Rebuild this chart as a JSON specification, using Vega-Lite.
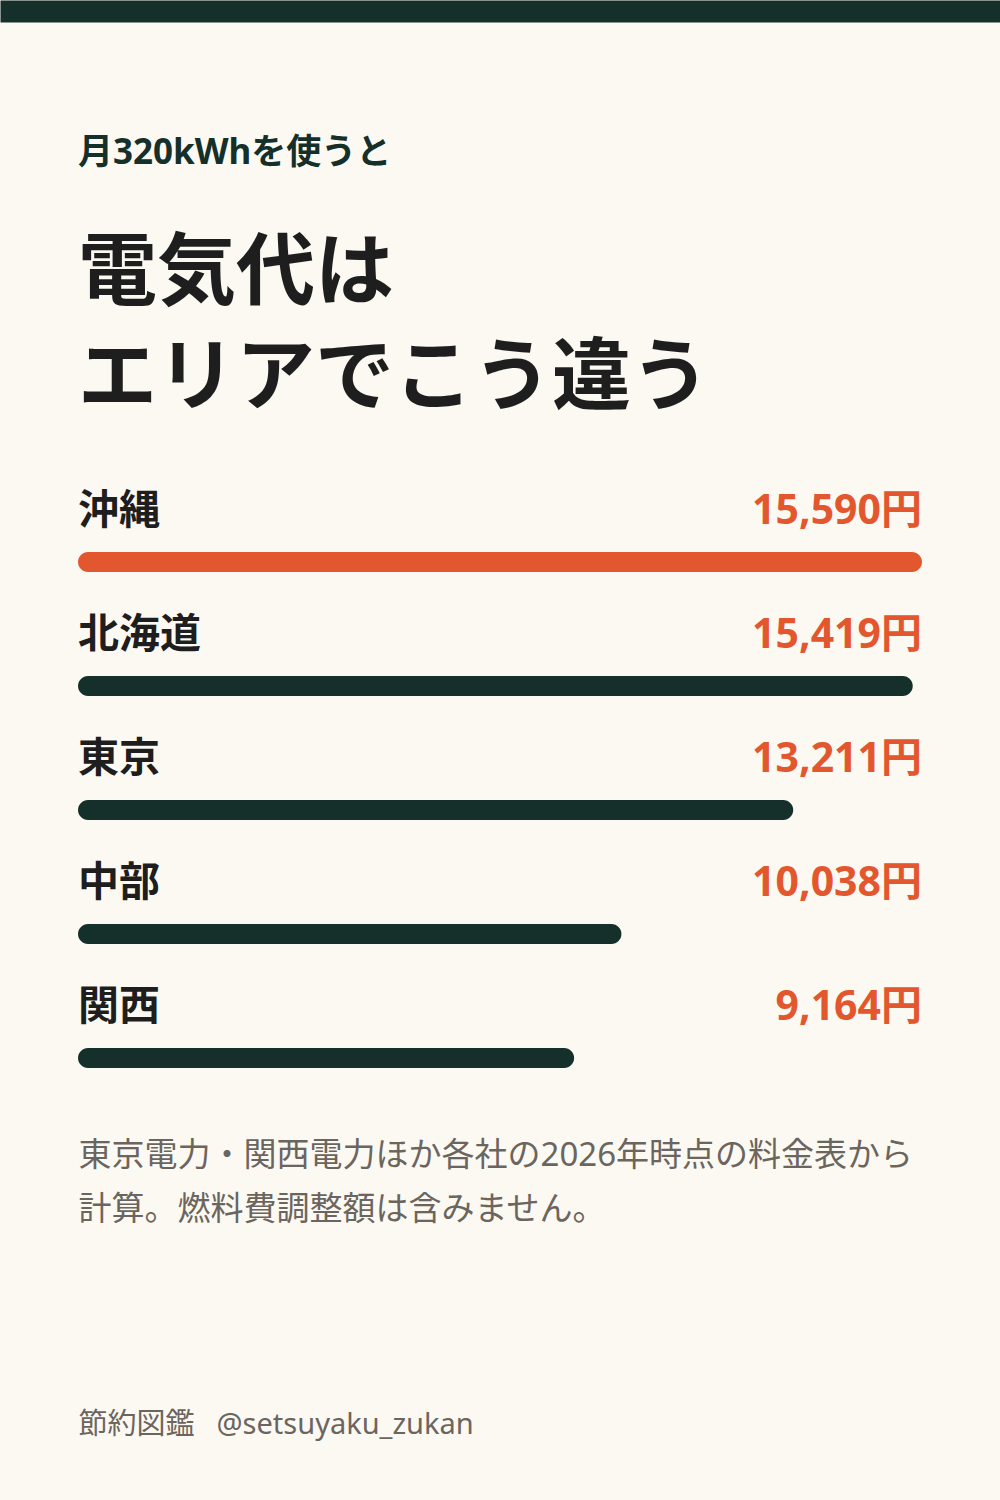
{
  "$schema": "https://vega.github.io/schema/vega-lite/v6.json",
  "width": 1000,
  "height": 620,
  "autosize": {"type": "none"},
  "padding": {"top": 500, "left": 0, "right": 0, "bottom": 380},
  "background": "#fcf9f2",
  "config": {"view": {"stroke": null}, "font": "Noto Sans, Noto Sans CJK JP"},
  "title": {
    "text": "月320kWhを使うと",
    "subtitle": ["電気代は", "エリアでこう違う"],
    "anchor": "start",
    "frame": "group",
    "orient": "top",
    "dx": 78,
    "offset": -409,
    "font": "Noto Sans, Noto Sans CJK JP",
    "fontSize": 35,
    "fontWeight": "bold",
    "color": "#15302b",
    "subtitleFont": "Noto Sans CJK JP",
    "subtitleFontSize": 79,
    "subtitleFontWeight": "bold",
    "subtitleColor": "#1e1e1e",
    "subtitleLineHeight": 105,
    "subtitlePadding": 66
  },
  "data": {
    "values": [
      {"area": "沖縄", "value": 15590},
      {"area": "北海道", "value": 15419},
      {"area": "東京", "value": 13211},
      {"area": "中部", "value": 10038},
      {"area": "関西", "value": 9164}
    ]
  },
  "transform": [
    {"joinaggregate": [{"op": "max", "field": "value", "as": "maxv"}]},
    {"calculate": "format(datum.value, ',') + '円'", "as": "label"}
  ],
  "encoding": {
    "y": {
      "field": "area",
      "type": "nominal",
      "sort": null,
      "scale": {"paddingInner": 0, "paddingOuter": 0},
      "axis": {
        "orient": "left",
        "domain": false,
        "ticks": false,
        "labels": false,
        "grid": false,
        "title": "節約図鑑\u2002 @setsuyaku_zukan",
        "titleAngle": 0,
        "titleAlign": "left",
        "titleBaseline": "alphabetic",
        "titleX": 78,
        "titleY": 933,
        "titleFont": "Noto Sans, Noto Sans CJK JP",
        "titleFontSize": 29,
        "titleFontWeight": "normal",
        "titleColor": "#6b6560"
      }
    }
  },
  "layer": [
    {
      "mark": {"type": "bar", "height": 20, "cornerRadius": 10},
      "encoding": {
        "x": {
          "field": "value",
          "type": "quantitative",
          "scale": {"domain": [-1440.8, 17030.8], "nice": false, "zero": false},
          "axis": {
            "orient": "bottom",
            "domain": false,
            "ticks": false,
            "labels": false,
            "grid": false,
            "title": ["東京電力・関西電力ほか各社の2026年時点の料金表から", "計算。燃料費調整額は含みません。"],
            "titleAnchor": "start",
            "titleAlign": "left",
            "titleBaseline": "alphabetic",
            "titleX": 78,
            "titleY": 45,
            "titleLineHeight": 54,
            "titleFont": "Noto Sans, Noto Sans CJK JP",
            "titleFontSize": 33,
            "titleFontWeight": "normal",
            "titleColor": "#6b6560"
          }
        },
        "x2": {"datum": 0},
        "color": {
          "field": "area",
          "type": "nominal",
          "scale": {
            "domain": ["沖縄", "北海道", "東京", "中部", "関西"],
            "range": ["#e3572f", "#15302b", "#15302b", "#15302b", "#15302b"]
          },
          "legend": null
        }
      }
    },
    {
      "mark": {"type": "text", "align": "left", "baseline": "middle", "yOffset": -50, "fontSize": 41, "fontWeight": "bold", "color": "#1e1e1e", "font": "Noto Sans CJK JP"},
      "encoding": {
        "x": {
          "datum": 0,
          "type": "quantitative",
          "axis": {
            "orient": "top",
            "domain": true,
            "domainColor": "#15302b",
            "domainWidth": 22,
            "domainCap": "butt",
            "ticks": false,
            "labels": false,
            "grid": false,
            "title": null,
            "offset": 489
          }
        },
        "text": {"field": "area"}
      }
    },
    {
      "mark": {"type": "text", "align": "right", "baseline": "middle", "yOffset": -50, "fontSize": 41, "fontWeight": "bold", "color": "#e3572f", "font": "Noto Sans, Noto Sans CJK JP"},
      "encoding": {
        "x": {"field": "maxv", "type": "quantitative", "axis": null},
        "text": {"field": "label"}
      }
    }
  ],
  "resolve": {"axis": {"x": "independent"}}
}
